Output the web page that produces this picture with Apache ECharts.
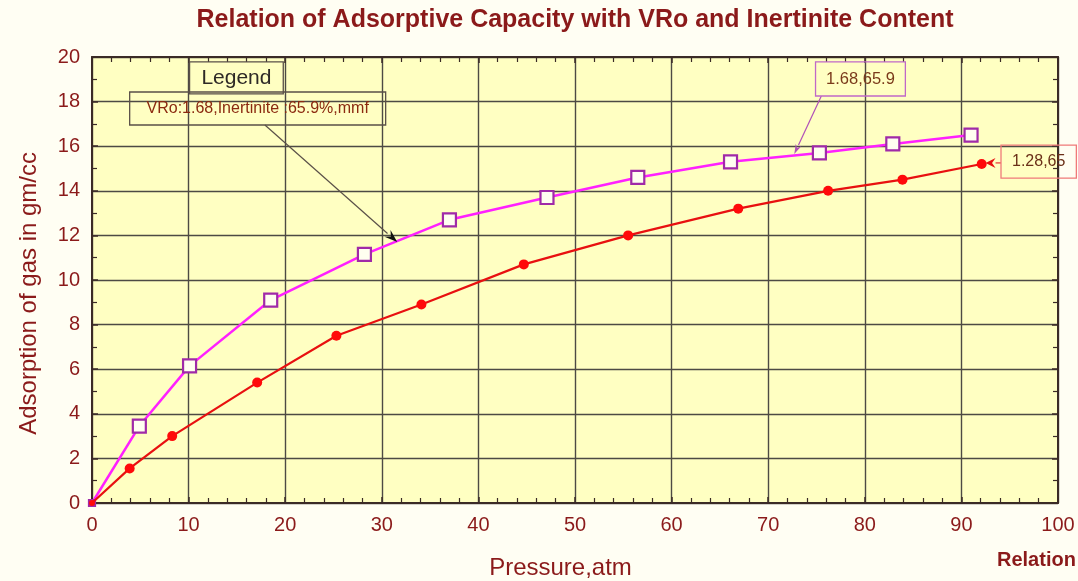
<!DOCTYPE html>
<html>
<head>
<meta charset="utf-8">
<style>
  html, body { margin: 0; padding: 0; background: #fffef3; }
  #chart { width: 1078px; height: 581px; }
</style>
<script src="https://cdn.jsdelivr.net/npm/echarts@6/dist/echarts.min.js"></script>
</head>
<body>
<div id="chart"></div>
<script>
// Sample with VRo 1.68, inertinite 65.9 %
const pressureA   = [0, 4.9, 10.1, 18.5, 28.2, 37.0, 47.1, 56.5, 66.1, 75.3, 82.9, 91.0];
const adsorptionA = [0, 3.45, 6.15, 9.1, 11.15, 12.7, 13.7, 14.6, 15.3, 15.7, 16.1, 16.5];

// Sample with VRo 1.28, inertinite 65 %
const pressureB   = [0, 3.9, 8.3, 17.1, 25.3, 34.1, 44.7, 55.5, 66.9, 76.2, 83.9, 92.1];
const adsorptionB = [0, 1.55, 3.0, 5.4, 7.5, 8.9, 10.7, 12.0, 13.2, 14.0, 14.5, 15.2];

const xTicks = [0, 10, 20, 30, 40, 50, 60, 70, 80, 90, 100];
const yTicks = [0, 2, 4, 6, 8, 10, 12, 14, 16, 18, 20];

const titleText = 'Relation of Adsorptive Capacity with VRo and Inertinite Content';
const xName = 'Pressure,atm';
const yName = 'Adsorption of gas in gm/cc';

const ink = '#8b1a1a';
const gridInk = '#4d4a44';
const frameInk = '#3b2b26';

const chart = echarts.init(document.getElementById('chart'), null, { renderer: 'canvas' });

// first point sits on the origin; keep its marker small so both curves start there
function pairs(xs, ys) {
  return xs.map((x, i) => (i === 0 ? { value: [x, ys[i]], symbolSize: 6 } : [x, ys[i]]));
}

function valueAxis(ticks, step, minorSplit, extra) {
  return Object.assign({
    type: 'value', min: ticks[0], max: ticks[ticks.length - 1], interval: step,
    axisLine: { show: true, onZero: false, lineStyle: { color: frameInk, width: 2 } },
    axisTick: { show: true, inside: true, length: 6, lineStyle: { color: frameInk, width: 1.5 } },
    minorTick: { show: true, splitNumber: minorSplit, length: 5, lineStyle: { color: frameInk, width: 1.2 } },
    splitLine: { show: false },
    axisLabel: { show: false }
  }, extra);
}

const labelStyle = (list) => ({
  show: true, color: ink, fontFamily: 'Liberation Sans, Arial', fontSize: 20, margin: 12,
  formatter: v => (list.indexOf(v) >= 0 ? String(v) : '')
});

chart.setOption({
  backgroundColor: '#fffef3',
  animation: false,
  title: {
    text: titleText, left: 570, top: 3, textAlign: 'center',
    textStyle: { color: ink, fontFamily: 'Liberation Sans, Arial', fontWeight: 'bold', fontSize: 25 }
  },
  grid: {
    left: 92, right: 20, top: 57, bottom: 78,
    containLabel: false, outerBoundsMode: 'none',
    show: true, backgroundColor: '#ffffc2', borderWidth: 0
  },
  xAxis: [
    valueAxis(xTicks, 10, 5, {
      position: 'bottom',
      axisLabel: labelStyle(xTicks),
      splitLine: { show: true, lineStyle: { color: gridInk, width: 1.4 } }
    }),
    valueAxis(xTicks, 10, 5, { position: 'top' })
  ],
  yAxis: [
    valueAxis(yTicks, 2, 2, {
      position: 'left',
      axisLabel: labelStyle(yTicks),
      splitLine: { show: true, lineStyle: { color: gridInk, width: 1.4 } }
    }),
    valueAxis(yTicks, 2, 2, { position: 'right' })
  ],
  series: [
    {
      type: 'line', name: '1.68,65.9', data: pairs(pressureA, adsorptionA),
      xAxisIndex: 0, yAxisIndex: 0, clip: false,
      lineStyle: { color: '#ff20ff', width: 2.5 },
      symbol: 'rect', symbolSize: 13,
      itemStyle: { color: '#fffff0', borderColor: '#a02aa8', borderWidth: 2.2 },
      z: 3
    },
    {
      type: 'line', name: '1.28,65', data: pairs(pressureB, adsorptionB),
      xAxisIndex: 0, yAxisIndex: 0, clip: false,
      lineStyle: { color: '#e81010', width: 2.2 },
      symbol: 'circle', symbolSize: 10,
      itemStyle: { color: '#ff0a0a', borderColor: '#ff0a0a', borderWidth: 0 },
      z: 4
    }
  ]
});

// Annotation boxes and arrows, placed in data units and converted to pixels
const px = (x, y) => chart.convertToPixel({ xAxisIndex: 0, yAxisIndex: 0 }, [x, y]);

function box(x0, y0, x1, y1, text, stroke, color, size, z) {
  const a = px(x0, y0), b = px(x1, y1);
  return [
    { type: 'rect', z: z, shape: { x: a[0], y: a[1], width: b[0] - a[0], height: b[1] - a[1] },
      style: { fill: 'rgba(0,0,0,0)', stroke: stroke, lineWidth: 1.3 } },
    { type: 'text', z: z + 1, x: (a[0] + b[0]) / 2, y: (a[1] + b[1]) / 2,
      style: { text: text, fill: color, font: size + 'px "Liberation Sans", Arial',
        align: 'center', verticalAlign: 'middle' } }
  ];
}

function arrow(x0, y0, x1, y1, stroke, head, headLen, headW) {
  const a = px(x0, y0), b = px(x1, y1);
  const dx = b[0] - a[0], dy = b[1] - a[1];
  const len = Math.sqrt(dx * dx + dy * dy);
  const ux = dx / len, uy = dy / len;
  const bx = b[0] - ux * headLen, by = b[1] - uy * headLen;
  const nx = -uy * headW, ny = ux * headW;
  return [
    { type: 'line', z: 20, shape: { x1: a[0], y1: a[1], x2: bx, y2: by },
      style: { stroke: stroke, lineWidth: 1.2 } },
    { type: 'polygon', z: 21,
      shape: { points: [[b[0], b[1]], [bx + nx, by + ny], [bx + ux * headLen * 0.35, by + uy * headLen * 0.35], [bx - nx, by - ny]] },
      style: { fill: head } }
  ];
}

// axis titles sit a little off the plot's centre lines
const mid = px(48.5, 9.4);
const axisTitles = [
  { type: 'text', z: 40, x: mid[0], y: 568,
    style: { text: xName, fill: ink, font: '24px "Liberation Sans", Arial', align: 'center', verticalAlign: 'middle' } },
  { type: 'text', z: 40, x: 29, y: mid[1], rotation: Math.PI / 2,
    style: { text: yName, fill: ink, font: '24px "Liberation Sans", Arial', align: 'center', verticalAlign: 'middle' } }
];

const graphics = [].concat(
  axisTitles,
  box(10.1, 19.78, 19.8, 18.35, 'Legend', '#5a5048', '#2e2a26', 21, 30),
  box(3.9, 18.43, 30.4, 16.95, 'VRo:1.68,Inertinite :65.9%,mmf', '#5a5048', '#8b2a10', 16, 32),
  arrow(17.9, 16.95, 31.6, 11.7, '#5a5048', '#111111', 13, 4.5),
  box(74.9, 19.78, 84.2, 18.25, '1.68,65.9', '#c068c8', '#7a3a1a', 16.5, 30),
  arrow(75.5, 18.25, 72.7, 15.65, '#b050b8', '#b050b8', 10, 3),
  box(94.1, 16.05, 101.9, 14.57, '1.28,65', '#f07a7a', '#6a3018', 16, 30),
  arrow(94.1, 15.25, 92.5, 15.25, '#e83030', '#e81010', 10, 5),
  [{ type: 'text', z: 40, left: 997, top: 550,
     style: { text: 'Relation', fill: ink, font: 'bold 20px "Liberation Sans", Arial' } }]
);

chart.setOption({ graphic: graphics });
</script>
</body>
</html>
